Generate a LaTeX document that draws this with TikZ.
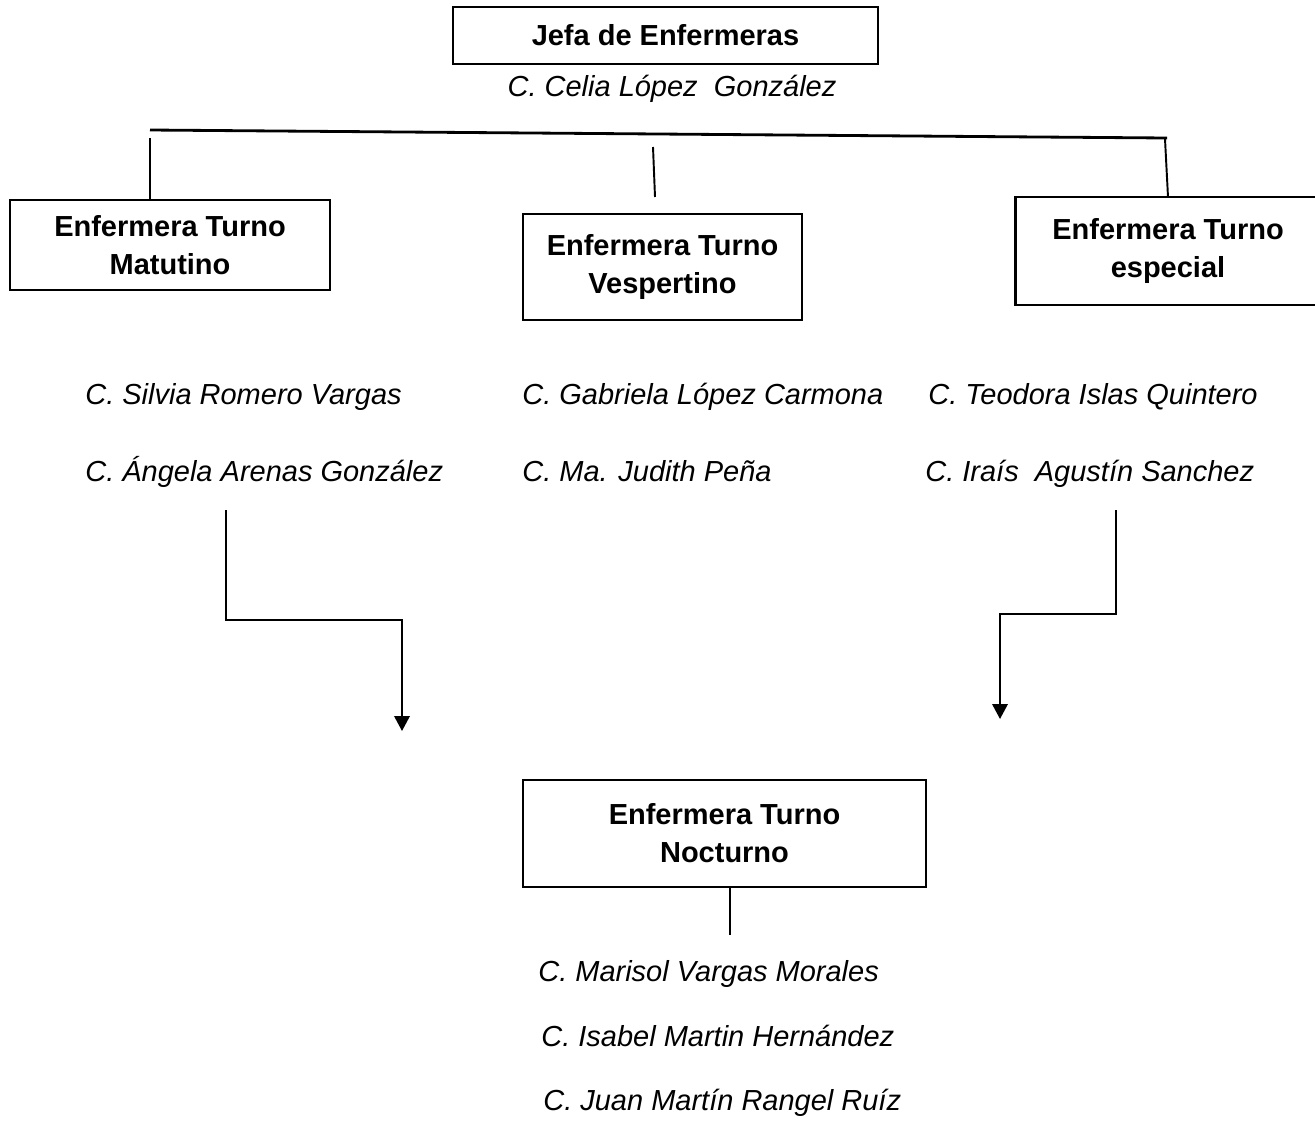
\documentclass[tikz,border=0pt]{standalone}
\usepackage{fontspec}
\setmainfont{Liberation Sans}
\usetikzlibrary{arrows.meta}
\tikzset{>={Triangle[length=3mm,width=3.1mm]}}
\tikzstyle{post}=[rectangle,draw,line width=1.3pt,align=center,inner sep=0pt,font=\bfseries\fontsize{16.5}{21.6}\selectfont]
\tikzstyle{nurse}=[anchor=base west,inner sep=0pt,font=\itshape\fontsize{16.5}{20}\selectfont]
\tikzstyle{link}=[line width=1.1pt]

\begin{document}
\begin{tikzpicture}[x=0.02cm,y=-0.02cm]
	\useasboundingbox (0,0) rectangle (1315,1120);

	% jefa
	\node[post,minimum width=8.5cm,minimum height=1.14cm] (jefa) at (665.5,35.5) {Jefa de Enfermeras};
	\node[nurse,anchor=base] (celia) at (672,96) {C. Celia López\ \ González};

	% turnos
	\node[post,minimum width=6.4cm,minimum height=1.8cm] (mat) at (170,245) {Enfermera Turno\\Matutino};
	\node[post,minimum width=5.58cm,minimum height=2.12cm] (vesp) at (662.5,267) {Enfermera Turno\\Vespertino};
	\node[post,minimum width=6.1cm,minimum height=2.16cm] (esp) at (1168,251) {Enfermera Turno\\especial};
	\node[post,minimum width=8.06cm,minimum height=2.14cm] (noc) at (724.5,833.5) {Enfermera Turno\\Nocturno};

	% enfermeras
	\node[nurse] (silvia) at (85,404) {C. Silvia Romero Vargas};
	\node[nurse] (angela) at (85,481) {C. Ángela Arenas González};
	\node[nurse] (gabriela) at (522,404) {C. Gabriela López Carmona};
	\node[nurse] (judith) at (522,481) {C. Ma. Judith Peña};
	\node[nurse] (teodora) at (928,404) {C. Teodora Islas Quintero};
	\node[nurse] (irais) at (925,481) {C. Iraís\ \ Agustín Sanchez};
	\node[nurse] (marisol) at (538,981) {C. Marisol Vargas Morales};
	\node[nurse] (isabel) at (541,1046) {C. Isabel Martin Hernández};
	\node[nurse] (juan) at (543,1110) {C. Juan Martín Rangel Ruíz};

	% puntos de las lineas
	\coordinate (hl) at (150,130);
	\coordinate (hr) at (1167,138);
	\coordinate (vl) at (150,138);
	\coordinate (vm) at (653,147);
	\coordinate (vmb) at (655,197);
	\coordinate (vr) at (1165,139);
	\coordinate (vrb) at (1168,197);
	\coordinate (nb) at (730,935);
	\coordinate (al) at (226,510);
	\coordinate (alt) at (402,731);
	\coordinate (ar) at (1116,510);
	\coordinate (art) at (1000,719);

	\draw[line width=1.6pt] (hl) -- (hr);
	\draw[link] (vl) -- (mat.north -| vl);
	\draw[link] (vm) -- (vmb);
	\draw[link] (vr) -- (vrb);
	\draw[link] (noc.south -| nb) -- (nb);

	\draw[link,->] (al) |- (402,620) -- (alt);
	\draw[link,->] (ar) |- (1000,614) -- (art);
\end{tikzpicture}
\end{document}
